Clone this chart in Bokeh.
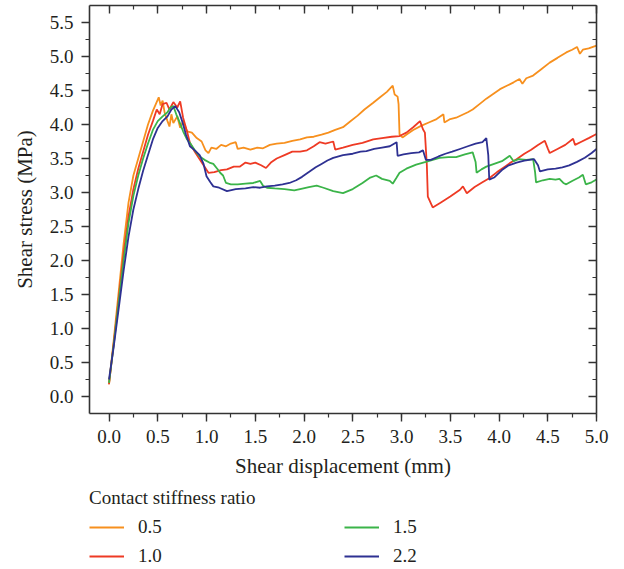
from bokeh.plotting import figure
from bokeh.models import (LinearAxis, FixedTicker, PrintfTickFormatter, Legend,
                          LegendItem, Range1d)
from bokeh.layouts import column
from bokeh.embed import file_html
from bokeh.resources import INLINE

# ---- data ----
series_names = ["0.5", "1.0", "1.5", "2.2"]

x_05 = [0.00, 0.05, 0.10, 0.15, 0.20, 0.25, 0.30, 0.35, 0.40, 0.45, 0.48, 0.51, 0.53, 0.55, 0.57,
        0.60, 0.62, 0.64, 0.66, 0.70, 0.73, 0.76, 0.80, 0.85, 0.90, 0.95, 0.99, 1.02, 1.05, 1.10,
        1.15, 1.20, 1.25, 1.30, 1.32, 1.38, 1.45, 1.52, 1.58, 1.65, 1.72, 1.80, 1.88, 1.96, 2.03,
        2.10, 2.18, 2.25, 2.32, 2.40, 2.47, 2.55, 2.62, 2.71, 2.78, 2.85, 2.91, 2.93, 2.96, 2.97,
        2.98, 3.01, 3.06, 3.12, 3.20, 3.28, 3.36, 3.43, 3.44, 3.50, 3.56, 3.62, 3.68, 3.73, 3.80,
        3.87, 3.94, 4.01, 4.08, 4.15, 4.21, 4.24, 4.28, 4.35, 4.43, 4.52, 4.60, 4.69, 4.75, 4.80,
        4.83, 4.86, 4.92, 5.00]
y_05 = [0.18, 0.85, 1.55, 2.25, 2.85, 3.25, 3.50, 3.75, 4.00, 4.20, 4.30, 4.40, 4.28, 4.35, 4.18,
        4.05, 3.97, 4.15, 4.02, 4.12, 3.95, 4.05, 3.90, 3.88, 3.80, 3.75, 3.62, 3.58, 3.66, 3.64,
        3.70, 3.68, 3.72, 3.74, 3.64, 3.66, 3.63, 3.66, 3.65, 3.70, 3.72, 3.73, 3.76, 3.78, 3.81,
        3.82, 3.85, 3.88, 3.92, 3.96, 4.04, 4.13, 4.22, 4.32, 4.40, 4.48, 4.57, 4.44, 4.41, 4.30,
        3.85, 3.81, 3.86, 3.92, 3.98, 4.03, 4.08, 4.15, 4.03, 4.08, 4.10, 4.14, 4.18, 4.22, 4.30,
        4.38, 4.45, 4.52, 4.57, 4.62, 4.67, 4.60, 4.68, 4.72, 4.81, 4.91, 4.98, 5.06, 5.10, 5.14,
        5.04, 5.10, 5.12, 5.16]

x_10 = [0.00, 0.05, 0.10, 0.15, 0.20, 0.25, 0.30, 0.35, 0.40, 0.45, 0.49, 0.52, 0.55, 0.59, 0.62,
        0.66, 0.70, 0.73, 0.76, 0.80, 0.83, 0.88, 0.93, 0.97, 1.02, 1.08, 1.15, 1.21, 1.28, 1.34,
        1.40, 1.45, 1.50, 1.56, 1.61, 1.66, 1.72, 1.80, 1.88, 1.96, 2.03, 2.10, 2.16, 2.22, 2.30,
        2.32, 2.40, 2.50, 2.60, 2.71, 2.80, 2.90, 2.98, 3.05, 3.12, 3.19, 3.22, 3.24, 3.26, 3.27,
        3.32, 3.40, 3.50, 3.60, 3.63, 3.67, 3.75, 3.83, 3.90, 3.98, 4.06, 4.12, 4.18, 4.26, 4.33,
        4.40, 4.47, 4.50, 4.52, 4.60, 4.68, 4.76, 4.78, 4.85, 4.92, 5.00]
y_10 = [0.18, 0.80, 1.45, 2.10, 2.65, 3.05, 3.35, 3.60, 3.85, 4.05, 4.22, 4.15, 4.30, 4.32, 4.22,
        4.33, 4.25, 4.34, 4.10, 3.90, 3.73, 3.60, 3.49, 3.40, 3.29, 3.30, 3.33, 3.34, 3.38, 3.38,
        3.44, 3.42, 3.44, 3.40, 3.36, 3.44, 3.50, 3.55, 3.60, 3.60, 3.62, 3.68, 3.74, 3.72, 3.75,
        3.63, 3.66, 3.70, 3.73, 3.78, 3.80, 3.82, 3.83, 3.88, 3.96, 4.05, 3.93, 3.88, 3.40, 2.94,
        2.78, 2.85, 2.94, 3.04, 3.09, 2.99, 3.08, 3.15, 3.21, 3.30, 3.38, 3.44, 3.49, 3.57, 3.63,
        3.70, 3.76, 3.65, 3.58, 3.64, 3.70, 3.79, 3.70, 3.75, 3.80, 3.86]

x_15 = [0.00, 0.05, 0.10, 0.15, 0.20, 0.25, 0.30, 0.35, 0.40, 0.45, 0.50, 0.55, 0.60, 0.63, 0.66,
        0.69, 0.72, 0.76, 0.80, 0.83, 0.88, 0.93, 0.98, 1.03, 1.07, 1.11, 1.14, 1.17, 1.20, 1.25,
        1.32, 1.40, 1.48, 1.55, 1.58, 1.62, 1.70, 1.80, 1.90, 1.96, 2.05, 2.13, 2.20, 2.30, 2.40,
        2.50, 2.60, 2.68, 2.74, 2.80, 2.88, 2.91, 2.95, 2.98, 3.05, 3.15, 3.25, 3.32, 3.39, 3.48,
        3.56, 3.65, 3.73, 3.76, 3.77, 3.82, 3.87, 3.95, 4.03, 4.11, 4.15, 4.20, 4.28, 4.35, 4.37,
        4.38, 4.45, 4.52, 4.58, 4.62, 4.66, 4.69, 4.75, 4.82, 4.86, 4.89, 4.95, 5.00]
y_15 = [0.20, 0.78, 1.40, 2.00, 2.55, 2.95, 3.25, 3.50, 3.72, 3.92, 4.05, 4.12, 4.18, 4.25, 4.27,
        4.15, 4.05, 3.90, 3.78, 3.73, 3.62, 3.53, 3.48, 3.44, 3.42, 3.35, 3.29, 3.25, 3.14, 3.12,
        3.12, 3.13, 3.14, 3.17, 3.10, 3.07, 3.06, 3.05, 3.03, 3.05, 3.08, 3.10, 3.07, 3.02, 2.99,
        3.05, 3.14, 3.22, 3.25, 3.20, 3.17, 3.13, 3.22, 3.29, 3.35, 3.41, 3.45, 3.48, 3.51, 3.52,
        3.52, 3.56, 3.59, 3.45, 3.29, 3.34, 3.38, 3.42, 3.46, 3.54, 3.46, 3.49, 3.48, 3.49, 3.30,
        3.15, 3.18, 3.20, 3.19, 3.20, 3.14, 3.12, 3.17, 3.22, 3.26, 3.12, 3.15, 3.19]

x_22 = [0.00, 0.05, 0.10, 0.15, 0.20, 0.25, 0.30, 0.35, 0.40, 0.45, 0.50, 0.55, 0.60, 0.64, 0.68,
        0.72, 0.75, 0.79, 0.83, 0.88, 0.93, 0.97, 1.00, 1.04, 1.07, 1.13, 1.21, 1.30, 1.40, 1.48,
        1.55, 1.62, 1.70, 1.78, 1.85, 1.92, 1.98, 2.05, 2.12, 2.18, 2.24, 2.30, 2.40, 2.50, 2.58,
        2.64, 2.72, 2.80, 2.88, 2.95, 2.96, 3.02, 3.10, 3.18, 3.22, 3.25, 3.30, 3.38, 3.45, 3.52,
        3.60, 3.68, 3.76, 3.83, 3.87, 3.89, 3.90, 3.95, 4.03, 4.10, 4.18, 4.26, 4.36, 4.40, 4.42,
        4.50, 4.58, 4.65, 4.72, 4.80, 4.88, 4.95, 5.00]
y_22 = [0.25, 0.75, 1.30, 1.85, 2.35, 2.75, 3.05, 3.32, 3.55, 3.78, 3.95, 4.05, 4.12, 4.22, 4.27,
        4.18, 4.05, 3.85, 3.68, 3.62, 3.55, 3.42, 3.24, 3.15, 3.09, 3.07, 3.02, 3.05, 3.06, 3.08,
        3.07, 3.09, 3.10, 3.12, 3.14, 3.18, 3.23, 3.30, 3.37, 3.42, 3.47, 3.51, 3.55, 3.57, 3.60,
        3.61, 3.64, 3.66, 3.68, 3.74, 3.54, 3.56, 3.58, 3.59, 3.62, 3.48, 3.48, 3.53, 3.57, 3.60,
        3.64, 3.68, 3.72, 3.74, 3.80, 3.55, 3.19, 3.22, 3.33, 3.40, 3.44, 3.47, 3.49, 3.40, 3.31,
        3.34, 3.35, 3.37, 3.40, 3.45, 3.51, 3.58, 3.64]

x_ticks = [0.0, 0.5, 1.0, 1.5, 2.0, 2.5, 3.0, 3.5, 4.0, 4.5, 5.0]
y_ticks = [0.0, 0.5, 1.0, 1.5, 2.0, 2.5, 3.0, 3.5, 4.0, 4.5, 5.0, 5.5]

colors = ["#F7901E", "#EE3A24", "#3BB449", "#2E3192"]
FONT = "Liberation Serif"
TXT = "#231F20"
AX = "#333333"
LW = 1.8

p = figure(frame_width=507, frame_height=408, output_backend="svg",
           toolbar_location=None, x_range=Range1d(-0.2, 5.0),
           y_range=Range1d(-0.25, 5.75), min_border_left=89, min_border_top=5,
           min_border_right=19, min_border_bottom=0)
p.background_fill_color = "white"
p.border_fill_color = "white"
p.outline_line_color = None
p.grid.visible = False

xs_all = [x_05, x_10, x_15, x_22]
ys_all = [y_05, y_10, y_15, y_22]
for xs, ys, c in zip(xs_all, ys_all, colors):
    p.line(xs, ys, line_color=c, line_width=LW)

minor_x = [v / 4 for v in range(0, 21)]
minor_y = [v / 4 for v in range(0, 23)]

def style_axis(ax, labels=True, inward=False):
    ax.axis_line_color = AX
    ax.axis_line_width = 1.6
    ax.major_tick_line_color = AX
    ax.minor_tick_line_color = AX
    ax.major_tick_line_width = 1.4
    ax.minor_tick_line_width = 1.2
    if inward:
        ax.major_tick_in, ax.major_tick_out = 8, 0
        ax.minor_tick_in, ax.minor_tick_out = 4, 0
    else:
        ax.major_tick_in, ax.major_tick_out = 0, 8
        ax.minor_tick_in, ax.minor_tick_out = 0, 4
    ax.major_label_text_font = FONT
    ax.major_label_text_font_size = "19px"
    ax.major_label_text_color = TXT
    ax.axis_label_text_font = FONT
    ax.axis_label_text_font_size = "21px"
    ax.axis_label_text_color = TXT
    ax.axis_label_text_font_style = "normal"
    if not labels:
        ax.major_label_text_font_size = "0px"
        ax.major_label_text_alpha = 0

xa = p.xaxis[0]
xa.ticker = FixedTicker(ticks=x_ticks, minor_ticks=minor_x)
xa.formatter = PrintfTickFormatter(format="%.1f")
xa.axis_label = "Shear displacement (mm)"
style_axis(xa)
xa.major_label_standoff = 8
xa.axis_label_standoff = 8

ya = p.yaxis[0]
ya.ticker = FixedTicker(ticks=y_ticks, minor_ticks=minor_y)
ya.formatter = PrintfTickFormatter(format="%.1f")
ya.axis_label = "Shear stress (MPa)"
style_axis(ya)
ya.major_label_standoff = 8
ya.axis_label_standoff = 10

top = LinearAxis(ticker=FixedTicker(ticks=x_ticks, minor_ticks=minor_x))
style_axis(top, labels=False, inward=True)
top.major_label_standoff = 0
p.add_layout(top, "above")

right = LinearAxis(ticker=FixedTicker(ticks=y_ticks, minor_ticks=minor_y))
style_axis(right, labels=False, inward=True)
right.major_label_standoff = 0
p.add_layout(right, "right")

# ---- legend in its own strip below the chart (series drawn out of view) ----
q = figure(width=608, height=88, output_backend="svg", toolbar_location=None,
           x_range=Range1d(0, 1), y_range=Range1d(100, 101), min_border=0)
q.axis.visible = False
q.grid.visible = False
q.outline_line_color = None
q.background_fill_color = "white"
q.border_fill_color = "white"
leg_renderers = [q.line(xs, ys, line_color=c, line_width=LW)
                 for xs, ys, c in zip(xs_all, ys_all, colors)]

items = [LegendItem(label=n, renderers=[r]) for n, r in zip(series_names, leg_renderers)]
legend = Legend(items=items, ncols=2, title="Contact stiffness ratio",
                location=(0, 1), orientation="vertical")
legend.title_text_font = FONT
legend.title_text_font_size = "19px"
legend.title_text_font_style = "normal"
legend.title_text_color = TXT
legend.title_standoff = 7
legend.label_text_font = FONT
legend.label_text_font_size = "19px"
legend.label_text_color = TXT
legend.glyph_width = 35
legend.glyph_height = 20
legend.label_standoff = 14
legend.label_width = 199
legend.label_height = 20
legend.spacing = 7
legend.padding = 0
legend.margin = 0
legend.border_line_color = None
legend.background_fill_alpha = 0
q.add_layout(legend, "center")

layout = column(p, q, spacing=0)
open("out.html", "w").write(file_html(layout, INLINE))
